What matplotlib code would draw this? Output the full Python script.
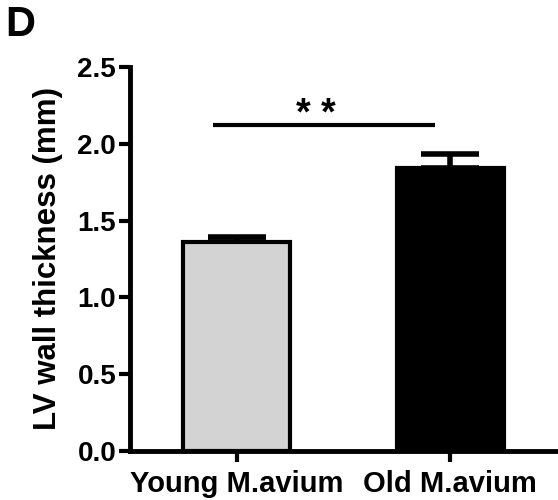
import matplotlib
matplotlib.use("Agg")
import matplotlib.pyplot as plt

# values
GROUPS = ["Young M.avium", "Old M.avium"]
MEANS = [1.36, 1.84]
SEM = [0.035, 0.095]
COLORS = ["#d3d3d3", "#000000"]
YTICKS = [0.0, 0.5, 1.0, 1.5, 2.0, 2.5]
SIG_LABEL = "* *"

plt.rcParams["font.family"] = ["Liberation Sans", "DejaVu Sans"]
plt.rcParams["font.weight"] = "bold"

fig = plt.figure(figsize=(5.58, 5.0), dpi=100)
ax = fig.add_axes([0.233, 0.098, 0.765, 0.768])

x = list(range(len(GROUPS)))
ax.bar(x, MEANS, width=0.5, color=COLORS, edgecolor="black", linewidth=3, zorder=2)
ax.errorbar(x, MEANS, yerr=[[0, 0], SEM], fmt="none", ecolor="black",
            elinewidth=4, capsize=21, capthick=4, zorder=1)

# significance bar
ax.plot([-0.11, 0.93], [2.12, 2.12], color="black", lw=3, solid_capstyle="butt")
ax.text(0.37, 2.12, SIG_LABEL, ha="center", va="baseline", fontsize=27,
        fontweight="bold")

ax.set_xlim(-0.5, 1.5)
ax.set_ylim(0, 2.5)
ax.set_yticks(YTICKS)
ax.set_yticklabels([f"{v:.1f}" for v in YTICKS], fontsize=20, fontweight="bold")
ax.set_xticks(x)
ax.set_xticklabels(GROUPS, fontsize=21, fontweight="bold")
ax.set_ylabel("LV wall thickness (mm)", fontsize=22.5, fontweight="bold", labelpad=10)

for side in ("top", "right"):
    ax.spines[side].set_visible(False)
for side in ("left", "bottom"):
    ax.spines[side].set_linewidth(3.5)
ax.tick_params(axis="y", width=3, length=8, pad=2)
ax.tick_params(axis="x", width=3, length=8, pad=6)

fig.text(0.01, 0.99, "D", fontsize=30, fontweight="bold", va="top", ha="left")

fig.savefig("out.png", dpi=100)
